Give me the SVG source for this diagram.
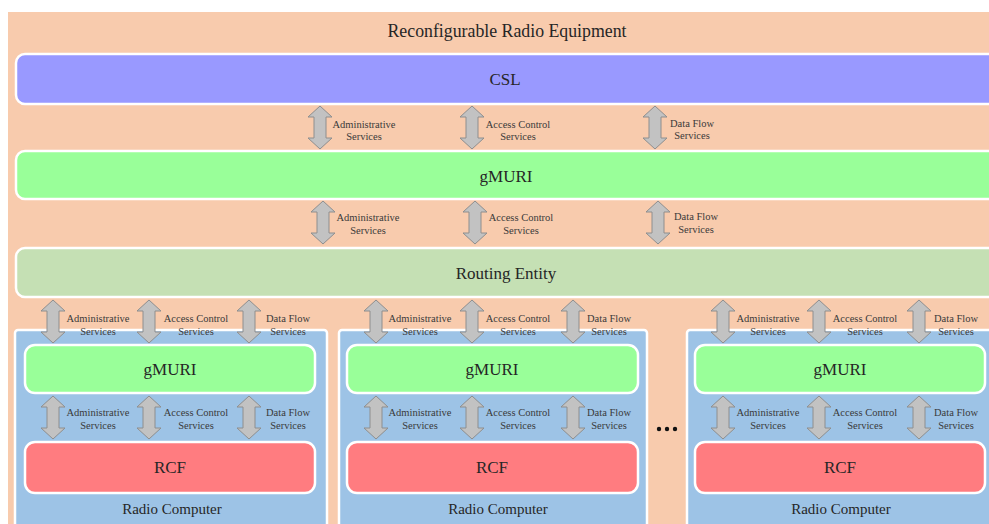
<svg xmlns="http://www.w3.org/2000/svg" xmlns:xlink="http://www.w3.org/1999/xlink" width="989" height="524" viewBox="0 0 989 524" font-family="'Liberation Serif', 'DejaVu Serif', serif">
<style>
.t{font-family:'Liberation Serif','DejaVu Serif',serif;fill:#262626;text-anchor:middle}
.big{font-size:17px}
.ttl{font-size:17.8px}
.mid{font-size:15px}
.lbl{font-family:'Liberation Serif','DejaVu Serif',serif;font-size:10.5px;fill:#3a3a3a;text-anchor:middle}
.box{stroke:#ffffff;stroke-width:2.5}
.arr{fill:#c2c2c2;stroke:#8e8e8e;stroke-width:1}
</style>
<defs>
<path id="dbl" class="arr" d="M0,0 L12,11 L6,11 L6,32 L12,32 L0,43 L-12,32 L-6,32 L-6,11 L-12,11 Z"/>
</defs>
<rect x="0" y="0" width="989" height="524" fill="#ffffff"/>
<g id="rre">
<rect x="8" y="12" width="990" height="520" fill="#F8CBAD"/>
<text class="t ttl" x="507" y="37">Reconfigurable Radio Equipment</text>
</g>
<g id="csl">
<rect class="box" x="16" y="54" width="990" height="50" rx="9" fill="#9999FF"/>
<text class="t big" x="505" y="85">CSL</text>
</g>
<g id="gmuri-top">
<rect class="box" x="16" y="151" width="990" height="48" rx="9" fill="#99FF99"/>
<text class="t big" x="506" y="182">gMURI</text>
</g>
<g id="routing">
<rect class="box" x="16" y="248" width="990" height="49" rx="9" fill="#C5E0B4"/>
<text class="t big" x="506" y="279">Routing Entity</text>
</g>
<g id="rc1">
<rect class="box" x="15" y="330" width="312" height="210" rx="3" fill="#9DC3E6"/>
<text class="t mid" x="172" y="514">Radio Computer</text>
</g>
<g id="rc2">
<rect class="box" x="339" y="330" width="308" height="210" rx="3" fill="#9DC3E6"/>
<text class="t mid" x="498" y="514">Radio Computer</text>
</g>
<g id="rc3">
<rect class="box" x="687" y="330" width="320" height="210" rx="3" fill="#9DC3E6"/>
<text class="t mid" x="841" y="514">Radio Computer</text>
</g>
<g id="gmuri1">
<rect class="box" x="25" y="345" width="290" height="48" rx="10" fill="#99FF99"/>
<text class="t big" x="170" y="375">gMURI</text>
</g>
<g id="gmuri2">
<rect class="box" x="347" y="345" width="291" height="48" rx="10" fill="#99FF99"/>
<text class="t big" x="492" y="375">gMURI</text>
</g>
<g id="gmuri3">
<rect class="box" x="695" y="345" width="290" height="48" rx="10" fill="#99FF99"/>
<text class="t big" x="840" y="375">gMURI</text>
</g>
<g id="rcf1">
<rect class="box" x="25" y="442" width="290" height="51" rx="10" fill="#FF7C80"/>
<text class="t big" x="170" y="473">RCF</text>
</g>
<g id="rcf2">
<rect class="box" x="347" y="442" width="291" height="51" rx="10" fill="#FF7C80"/>
<text class="t big" x="492" y="473">RCF</text>
</g>
<g id="rcf3">
<rect class="box" x="695" y="442" width="290" height="51" rx="10" fill="#FF7C80"/>
<text class="t big" x="840" y="473">RCF</text>
</g>
<g id="ellipsis" fill="#111">
<circle cx="659" cy="429" r="2.2"/><circle cx="667" cy="429" r="2.2"/><circle cx="675" cy="429" r="2.2"/>
</g>
<g id="connectors">
<use xlink:href="#dbl" x="320" y="106"/>
<use xlink:href="#dbl" x="472" y="106"/>
<use xlink:href="#dbl" x="655" y="106"/>
<use xlink:href="#dbl" x="323" y="201"/>
<use xlink:href="#dbl" x="475" y="201"/>
<use xlink:href="#dbl" x="658" y="201"/>
<use xlink:href="#dbl" x="53" y="300"/>
<use xlink:href="#dbl" x="149" y="300"/>
<use xlink:href="#dbl" x="249" y="300"/>
<use xlink:href="#dbl" x="376" y="300"/>
<use xlink:href="#dbl" x="472" y="300"/>
<use xlink:href="#dbl" x="573" y="300"/>
<use xlink:href="#dbl" x="723" y="300"/>
<use xlink:href="#dbl" x="819" y="300"/>
<use xlink:href="#dbl" x="919" y="300"/>
<use xlink:href="#dbl" x="53" y="396"/>
<use xlink:href="#dbl" x="149" y="396"/>
<use xlink:href="#dbl" x="249" y="396"/>
<use xlink:href="#dbl" x="376" y="396"/>
<use xlink:href="#dbl" x="472" y="396"/>
<use xlink:href="#dbl" x="573" y="396"/>
<use xlink:href="#dbl" x="723" y="396"/>
<use xlink:href="#dbl" x="819" y="396"/>
<use xlink:href="#dbl" x="919" y="396"/>
</g>
<g id="connector-labels">
<text class="lbl" x="364" y="128">Administrative</text><text class="lbl" x="364" y="140">Services</text>
<text class="lbl" x="518" y="128">Access Control</text><text class="lbl" x="518" y="140">Services</text>
<text class="lbl" x="692" y="127">Data Flow</text><text class="lbl" x="692" y="139">Services</text>
<text class="lbl" x="368" y="221">Administrative</text><text class="lbl" x="368" y="234">Services</text>
<text class="lbl" x="521" y="221">Access Control</text><text class="lbl" x="521" y="234">Services</text>
<text class="lbl" x="696" y="220">Data Flow</text><text class="lbl" x="696" y="233">Services</text>
<text class="lbl" x="98" y="322">Administrative</text><text class="lbl" x="98" y="335">Services</text>
<text class="lbl" x="196" y="322">Access Control</text><text class="lbl" x="196" y="335">Services</text>
<text class="lbl" x="288" y="322">Data Flow</text><text class="lbl" x="288" y="335">Services</text>
<text class="lbl" x="420" y="322">Administrative</text><text class="lbl" x="420" y="335">Services</text>
<text class="lbl" x="518" y="322">Access Control</text><text class="lbl" x="518" y="335">Services</text>
<text class="lbl" x="609" y="322">Data Flow</text><text class="lbl" x="609" y="335">Services</text>
<text class="lbl" x="768" y="322">Administrative</text><text class="lbl" x="768" y="335">Services</text>
<text class="lbl" x="865" y="322">Access Control</text><text class="lbl" x="865" y="335">Services</text>
<text class="lbl" x="956" y="322">Data Flow</text><text class="lbl" x="956" y="335">Services</text>
<text class="lbl" x="98" y="416">Administrative</text><text class="lbl" x="98" y="429">Services</text>
<text class="lbl" x="196" y="416">Access Control</text><text class="lbl" x="196" y="429">Services</text>
<text class="lbl" x="288" y="416">Data Flow</text><text class="lbl" x="288" y="429">Services</text>
<text class="lbl" x="420" y="416">Administrative</text><text class="lbl" x="420" y="429">Services</text>
<text class="lbl" x="518" y="416">Access Control</text><text class="lbl" x="518" y="429">Services</text>
<text class="lbl" x="609" y="416">Data Flow</text><text class="lbl" x="609" y="429">Services</text>
<text class="lbl" x="768" y="416">Administrative</text><text class="lbl" x="768" y="429">Services</text>
<text class="lbl" x="865" y="416">Access Control</text><text class="lbl" x="865" y="429">Services</text>
<text class="lbl" x="956" y="416">Data Flow</text><text class="lbl" x="956" y="429">Services</text>
</g>
</svg>
